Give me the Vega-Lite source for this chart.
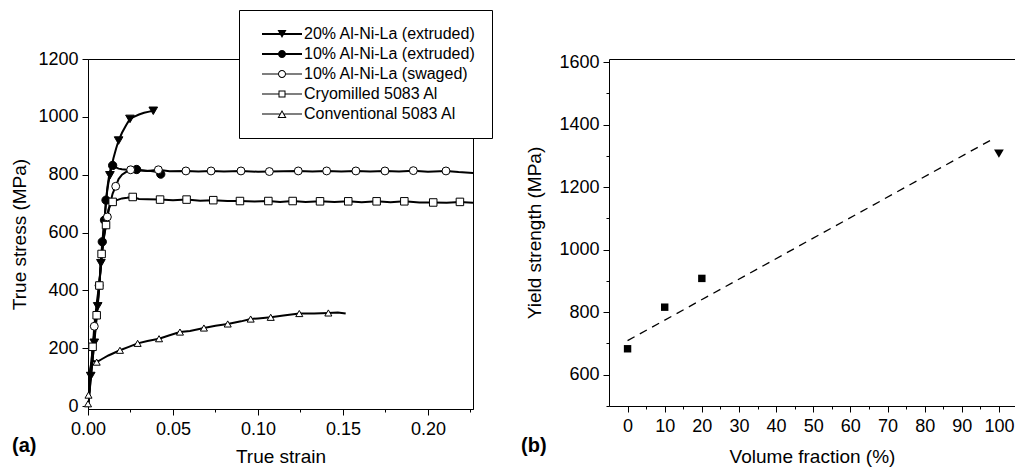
{
"$schema": "https://vega.github.io/schema/vega-lite/v6.json",
"padding": {"left": 10, "top": 9, "right": 0, "bottom": 0},
"bounds": "flush",
"spacing": 136,
"background": "white",
"resolve": {"scale": {"shape": "independent", "fill": "independent", "strokeWidth": "independent", "size": "independent"}, "legend": {"shape": "independent", "fill": "independent", "strokeWidth": "independent", "size": "independent"}},
"config": {
  "font": "Liberation Sans",
  "view": {"stroke": "black", "strokeWidth": 1},
  "axis": {"domainColor": "black", "domainWidth": 1, "tickColor": "black", "tickWidth": 1, "labelColor": "black", "titleColor": "black", "labelFont": "Liberation Sans", "titleFont": "Liberation Sans", "labelFontSize": 18, "titleFontSize": 19, "titleFontWeight": "normal", "grid": false, "labelFlush": false, "labelOverlap": false},
  "title": {"font": "Liberation Sans", "fontSize": 20, "fontWeight": "bold", "color": "black"}
},
"datasets": {
  "curves": [
    {"series": "20% Al-Ni-La (extruded)", "strain": 0, "stress": 0},
    {"series": "20% Al-Ni-La (extruded)", "strain": 0.001, "stress": 55},
    {"series": "20% Al-Ni-La (extruded)", "strain": 0.0016, "stress": 104},
    {"series": "20% Al-Ni-La (extruded)", "strain": 0.0027, "stress": 160},
    {"series": "20% Al-Ni-La (extruded)", "strain": 0.0037, "stress": 219},
    {"series": "20% Al-Ni-La (extruded)", "strain": 0.0047, "stress": 282},
    {"series": "20% Al-Ni-La (extruded)", "strain": 0.0057, "stress": 345},
    {"series": "20% Al-Ni-La (extruded)", "strain": 0.0067, "stress": 420},
    {"series": "20% Al-Ni-La (extruded)", "strain": 0.0076, "stress": 494},
    {"series": "20% Al-Ni-La (extruded)", "strain": 0.0086, "stress": 565},
    {"series": "20% Al-Ni-La (extruded)", "strain": 0.0095, "stress": 630},
    {"series": "20% Al-Ni-La (extruded)", "strain": 0.0104, "stress": 690},
    {"series": "20% Al-Ni-La (extruded)", "strain": 0.0113, "stress": 745},
    {"series": "20% Al-Ni-La (extruded)", "strain": 0.0121, "stress": 775},
    {"series": "20% Al-Ni-La (extruded)", "strain": 0.0129, "stress": 798},
    {"series": "20% Al-Ni-La (extruded)", "strain": 0.014, "stress": 832},
    {"series": "20% Al-Ni-La (extruded)", "strain": 0.015, "stress": 858},
    {"series": "20% Al-Ni-La (extruded)", "strain": 0.0165, "stress": 890},
    {"series": "20% Al-Ni-La (extruded)", "strain": 0.018, "stress": 918},
    {"series": "20% Al-Ni-La (extruded)", "strain": 0.02, "stress": 945},
    {"series": "20% Al-Ni-La (extruded)", "strain": 0.0225, "stress": 972},
    {"series": "20% Al-Ni-La (extruded)", "strain": 0.0247, "stress": 993},
    {"series": "20% Al-Ni-La (extruded)", "strain": 0.027, "stress": 1000},
    {"series": "20% Al-Ni-La (extruded)", "strain": 0.03, "stress": 1008},
    {"series": "20% Al-Ni-La (extruded)", "strain": 0.033, "stress": 1014},
    {"series": "20% Al-Ni-La (extruded)", "strain": 0.036, "stress": 1018},
    {"series": "20% Al-Ni-La (extruded)", "strain": 0.0384, "stress": 1021},
    {"series": "20% Al-Ni-La (extruded)", "strain": 0.0395, "stress": 1024},
    {"series": "10% Al-Ni-La (extruded)", "strain": 0, "stress": 0},
    {"series": "10% Al-Ni-La (extruded)", "strain": 0.001, "stress": 55},
    {"series": "10% Al-Ni-La (extruded)", "strain": 0.002, "stress": 115},
    {"series": "10% Al-Ni-La (extruded)", "strain": 0.003, "stress": 180},
    {"series": "10% Al-Ni-La (extruded)", "strain": 0.004, "stress": 245},
    {"series": "10% Al-Ni-La (extruded)", "strain": 0.005, "stress": 310},
    {"series": "10% Al-Ni-La (extruded)", "strain": 0.006, "stress": 380},
    {"series": "10% Al-Ni-La (extruded)", "strain": 0.007, "stress": 450},
    {"series": "10% Al-Ni-La (extruded)", "strain": 0.0084, "stress": 568},
    {"series": "10% Al-Ni-La (extruded)", "strain": 0.0097, "stress": 643},
    {"series": "10% Al-Ni-La (extruded)", "strain": 0.0106, "stress": 712},
    {"series": "10% Al-Ni-La (extruded)", "strain": 0.0115, "stress": 760},
    {"series": "10% Al-Ni-La (extruded)", "strain": 0.0125, "stress": 800},
    {"series": "10% Al-Ni-La (extruded)", "strain": 0.0135, "stress": 825},
    {"series": "10% Al-Ni-La (extruded)", "strain": 0.0145, "stress": 832},
    {"series": "10% Al-Ni-La (extruded)", "strain": 0.016, "stress": 826},
    {"series": "10% Al-Ni-La (extruded)", "strain": 0.018, "stress": 821},
    {"series": "10% Al-Ni-La (extruded)", "strain": 0.02, "stress": 819},
    {"series": "10% Al-Ni-La (extruded)", "strain": 0.023, "stress": 817},
    {"series": "10% Al-Ni-La (extruded)", "strain": 0.0286, "stress": 818},
    {"series": "10% Al-Ni-La (extruded)", "strain": 0.031, "stress": 815},
    {"series": "10% Al-Ni-La (extruded)", "strain": 0.034, "stress": 814},
    {"series": "10% Al-Ni-La (extruded)", "strain": 0.037, "stress": 813},
    {"series": "10% Al-Ni-La (extruded)", "strain": 0.04, "stress": 810},
    {"series": "10% Al-Ni-La (extruded)", "strain": 0.0428, "stress": 802},
    {"series": "10% Al-Ni-La (swaged)", "strain": 0, "stress": 0},
    {"series": "10% Al-Ni-La (swaged)", "strain": 0.001, "stress": 70},
    {"series": "10% Al-Ni-La (swaged)", "strain": 0.002, "stress": 150},
    {"series": "10% Al-Ni-La (swaged)", "strain": 0.0029, "stress": 210},
    {"series": "10% Al-Ni-La (swaged)", "strain": 0.0037, "stress": 276},
    {"series": "10% Al-Ni-La (swaged)", "strain": 0.005, "stress": 350},
    {"series": "10% Al-Ni-La (swaged)", "strain": 0.0065, "stress": 417},
    {"series": "10% Al-Ni-La (swaged)", "strain": 0.008, "stress": 510},
    {"series": "10% Al-Ni-La (swaged)", "strain": 0.0095, "stress": 590},
    {"series": "10% Al-Ni-La (swaged)", "strain": 0.0114, "stress": 654},
    {"series": "10% Al-Ni-La (swaged)", "strain": 0.013, "stress": 700},
    {"series": "10% Al-Ni-La (swaged)", "strain": 0.0145, "stress": 735},
    {"series": "10% Al-Ni-La (swaged)", "strain": 0.0163, "stress": 760},
    {"series": "10% Al-Ni-La (swaged)", "strain": 0.018, "stress": 785},
    {"series": "10% Al-Ni-La (swaged)", "strain": 0.02, "stress": 800},
    {"series": "10% Al-Ni-La (swaged)", "strain": 0.0225, "stress": 810},
    {"series": "10% Al-Ni-La (swaged)", "strain": 0.0251, "stress": 817},
    {"series": "10% Al-Ni-La (swaged)", "strain": 0.03, "stress": 815},
    {"series": "10% Al-Ni-La (swaged)", "strain": 0.035, "stress": 813},
    {"series": "10% Al-Ni-La (swaged)", "strain": 0.0414, "stress": 817},
    {"series": "10% Al-Ni-La (swaged)", "strain": 0.048, "stress": 812},
    {"series": "10% Al-Ni-La (swaged)", "strain": 0.0576, "stress": 813},
    {"series": "10% Al-Ni-La (swaged)", "strain": 0.065, "stress": 811},
    {"series": "10% Al-Ni-La (swaged)", "strain": 0.0724, "stress": 813},
    {"series": "10% Al-Ni-La (swaged)", "strain": 0.08, "stress": 811},
    {"series": "10% Al-Ni-La (swaged)", "strain": 0.09, "stress": 813},
    {"series": "10% Al-Ni-La (swaged)", "strain": 0.1, "stress": 810},
    {"series": "10% Al-Ni-La (swaged)", "strain": 0.1067, "stress": 811},
    {"series": "10% Al-Ni-La (swaged)", "strain": 0.115, "stress": 812},
    {"series": "10% Al-Ni-La (swaged)", "strain": 0.1237, "stress": 813},
    {"series": "10% Al-Ni-La (swaged)", "strain": 0.132, "stress": 811},
    {"series": "10% Al-Ni-La (swaged)", "strain": 0.1404, "stress": 813},
    {"series": "10% Al-Ni-La (swaged)", "strain": 0.149, "stress": 811},
    {"series": "10% Al-Ni-La (swaged)", "strain": 0.1576, "stress": 813},
    {"series": "10% Al-Ni-La (swaged)", "strain": 0.166, "stress": 811},
    {"series": "10% Al-Ni-La (swaged)", "strain": 0.1747, "stress": 813},
    {"series": "10% Al-Ni-La (swaged)", "strain": 0.183, "stress": 811},
    {"series": "10% Al-Ni-La (swaged)", "strain": 0.1914, "stress": 814},
    {"series": "10% Al-Ni-La (swaged)", "strain": 0.2, "stress": 810},
    {"series": "10% Al-Ni-La (swaged)", "strain": 0.2106, "stress": 813},
    {"series": "10% Al-Ni-La (swaged)", "strain": 0.218, "stress": 809},
    {"series": "10% Al-Ni-La (swaged)", "strain": 0.2265, "stress": 806},
    {"series": "Cryomilled 5083 Al", "strain": 0, "stress": 0},
    {"series": "Cryomilled 5083 Al", "strain": 0.001, "stress": 70},
    {"series": "Cryomilled 5083 Al", "strain": 0.0027, "stress": 205},
    {"series": "Cryomilled 5083 Al", "strain": 0.004, "stress": 265},
    {"series": "Cryomilled 5083 Al", "strain": 0.0051, "stress": 314},
    {"series": "Cryomilled 5083 Al", "strain": 0.0067, "stress": 417},
    {"series": "Cryomilled 5083 Al", "strain": 0.008, "stress": 526},
    {"series": "Cryomilled 5083 Al", "strain": 0.0093, "stress": 580},
    {"series": "Cryomilled 5083 Al", "strain": 0.0106, "stress": 626},
    {"series": "Cryomilled 5083 Al", "strain": 0.012, "stress": 680},
    {"series": "Cryomilled 5083 Al", "strain": 0.0135, "stress": 700},
    {"series": "Cryomilled 5083 Al", "strain": 0.0145, "stress": 706},
    {"series": "Cryomilled 5083 Al", "strain": 0.017, "stress": 712},
    {"series": "Cryomilled 5083 Al", "strain": 0.02, "stress": 718},
    {"series": "Cryomilled 5083 Al", "strain": 0.023, "stress": 720},
    {"series": "Cryomilled 5083 Al", "strain": 0.0263, "stress": 723},
    {"series": "Cryomilled 5083 Al", "strain": 0.03, "stress": 716},
    {"series": "Cryomilled 5083 Al", "strain": 0.035, "stress": 715},
    {"series": "Cryomilled 5083 Al", "strain": 0.0424, "stress": 714},
    {"series": "Cryomilled 5083 Al", "strain": 0.05, "stress": 712},
    {"series": "Cryomilled 5083 Al", "strain": 0.058, "stress": 714},
    {"series": "Cryomilled 5083 Al", "strain": 0.066, "stress": 710},
    {"series": "Cryomilled 5083 Al", "strain": 0.0737, "stress": 712},
    {"series": "Cryomilled 5083 Al", "strain": 0.082, "stress": 709},
    {"series": "Cryomilled 5083 Al", "strain": 0.0894, "stress": 709},
    {"series": "Cryomilled 5083 Al", "strain": 0.098, "stress": 707},
    {"series": "Cryomilled 5083 Al", "strain": 0.1061, "stress": 709},
    {"series": "Cryomilled 5083 Al", "strain": 0.113, "stress": 706},
    {"series": "Cryomilled 5083 Al", "strain": 0.1204, "stress": 709},
    {"series": "Cryomilled 5083 Al", "strain": 0.128, "stress": 706},
    {"series": "Cryomilled 5083 Al", "strain": 0.1365, "stress": 708},
    {"series": "Cryomilled 5083 Al", "strain": 0.145, "stress": 706},
    {"series": "Cryomilled 5083 Al", "strain": 0.1531, "stress": 708},
    {"series": "Cryomilled 5083 Al", "strain": 0.161, "stress": 705},
    {"series": "Cryomilled 5083 Al", "strain": 0.1698, "stress": 708},
    {"series": "Cryomilled 5083 Al", "strain": 0.178, "stress": 705},
    {"series": "Cryomilled 5083 Al", "strain": 0.1861, "stress": 708},
    {"series": "Cryomilled 5083 Al", "strain": 0.195, "stress": 704},
    {"series": "Cryomilled 5083 Al", "strain": 0.2031, "stress": 704},
    {"series": "Cryomilled 5083 Al", "strain": 0.211, "stress": 703},
    {"series": "Cryomilled 5083 Al", "strain": 0.2188, "stress": 706},
    {"series": "Cryomilled 5083 Al", "strain": 0.2265, "stress": 703},
    {"series": "Conventional 5083 Al", "strain": 0, "stress": 0},
    {"series": "Conventional 5083 Al", "strain": 0.0003, "stress": 38},
    {"series": "Conventional 5083 Al", "strain": 0.0008, "stress": 90},
    {"series": "Conventional 5083 Al", "strain": 0.0013, "stress": 130},
    {"series": "Conventional 5083 Al", "strain": 0.002, "stress": 150},
    {"series": "Conventional 5083 Al", "strain": 0.003, "stress": 157},
    {"series": "Conventional 5083 Al", "strain": 0.0051, "stress": 152},
    {"series": "Conventional 5083 Al", "strain": 0.008, "stress": 162},
    {"series": "Conventional 5083 Al", "strain": 0.012, "stress": 175},
    {"series": "Conventional 5083 Al", "strain": 0.0188, "stress": 193},
    {"series": "Conventional 5083 Al", "strain": 0.024, "stress": 205},
    {"series": "Conventional 5083 Al", "strain": 0.0292, "stress": 217},
    {"series": "Conventional 5083 Al", "strain": 0.035, "stress": 225},
    {"series": "Conventional 5083 Al", "strain": 0.0418, "stress": 233},
    {"series": "Conventional 5083 Al", "strain": 0.048, "stress": 245},
    {"series": "Conventional 5083 Al", "strain": 0.0541, "stress": 256},
    {"series": "Conventional 5083 Al", "strain": 0.06, "stress": 260},
    {"series": "Conventional 5083 Al", "strain": 0.0682, "stress": 270},
    {"series": "Conventional 5083 Al", "strain": 0.075, "stress": 278},
    {"series": "Conventional 5083 Al", "strain": 0.0822, "stress": 284},
    {"series": "Conventional 5083 Al", "strain": 0.09, "stress": 293},
    {"series": "Conventional 5083 Al", "strain": 0.0957, "stress": 301},
    {"series": "Conventional 5083 Al", "strain": 0.1, "stress": 303},
    {"series": "Conventional 5083 Al", "strain": 0.1075, "stress": 307},
    {"series": "Conventional 5083 Al", "strain": 0.115, "stress": 313},
    {"series": "Conventional 5083 Al", "strain": 0.1243, "stress": 320},
    {"series": "Conventional 5083 Al", "strain": 0.133, "stress": 320},
    {"series": "Conventional 5083 Al", "strain": 0.1414, "stress": 322},
    {"series": "Conventional 5083 Al", "strain": 0.147, "stress": 324},
    {"series": "Conventional 5083 Al", "strain": 0.1516, "stress": 320}
  ],
  "markers": [
    {"series": "20% Al-Ni-La (extruded)", "strain": 0.0016, "stress": 104},
    {"series": "20% Al-Ni-La (extruded)", "strain": 0.0037, "stress": 219},
    {"series": "20% Al-Ni-La (extruded)", "strain": 0.0057, "stress": 345},
    {"series": "20% Al-Ni-La (extruded)", "strain": 0.0076, "stress": 494},
    {"series": "20% Al-Ni-La (extruded)", "strain": 0.0129, "stress": 798},
    {"series": "20% Al-Ni-La (extruded)", "strain": 0.018, "stress": 918},
    {"series": "20% Al-Ni-La (extruded)", "strain": 0.0247, "stress": 993},
    {"series": "20% Al-Ni-La (extruded)", "strain": 0.0384, "stress": 1021},
    {"series": "10% Al-Ni-La (extruded)", "strain": 0.0084, "stress": 568},
    {"series": "10% Al-Ni-La (extruded)", "strain": 0.0097, "stress": 643},
    {"series": "10% Al-Ni-La (extruded)", "strain": 0.0106, "stress": 712},
    {"series": "10% Al-Ni-La (extruded)", "strain": 0.0145, "stress": 832},
    {"series": "10% Al-Ni-La (extruded)", "strain": 0.0286, "stress": 818},
    {"series": "10% Al-Ni-La (extruded)", "strain": 0.0428, "stress": 802},
    {"series": "10% Al-Ni-La (swaged)", "strain": 0.0037, "stress": 276},
    {"series": "10% Al-Ni-La (swaged)", "strain": 0.0065, "stress": 417},
    {"series": "10% Al-Ni-La (swaged)", "strain": 0.0114, "stress": 654},
    {"series": "10% Al-Ni-La (swaged)", "strain": 0.0163, "stress": 760},
    {"series": "10% Al-Ni-La (swaged)", "strain": 0.0251, "stress": 817},
    {"series": "10% Al-Ni-La (swaged)", "strain": 0.0414, "stress": 817},
    {"series": "10% Al-Ni-La (swaged)", "strain": 0.0576, "stress": 813},
    {"series": "10% Al-Ni-La (swaged)", "strain": 0.0724, "stress": 813},
    {"series": "10% Al-Ni-La (swaged)", "strain": 0.09, "stress": 813},
    {"series": "10% Al-Ni-La (swaged)", "strain": 0.1067, "stress": 811},
    {"series": "10% Al-Ni-La (swaged)", "strain": 0.1237, "stress": 813},
    {"series": "10% Al-Ni-La (swaged)", "strain": 0.1404, "stress": 813},
    {"series": "10% Al-Ni-La (swaged)", "strain": 0.1576, "stress": 813},
    {"series": "10% Al-Ni-La (swaged)", "strain": 0.1747, "stress": 813},
    {"series": "10% Al-Ni-La (swaged)", "strain": 0.1914, "stress": 814},
    {"series": "10% Al-Ni-La (swaged)", "strain": 0.2106, "stress": 813},
    {"series": "Cryomilled 5083 Al", "strain": 0.0027, "stress": 205},
    {"series": "Cryomilled 5083 Al", "strain": 0.0051, "stress": 314},
    {"series": "Cryomilled 5083 Al", "strain": 0.0067, "stress": 417},
    {"series": "Cryomilled 5083 Al", "strain": 0.008, "stress": 526},
    {"series": "Cryomilled 5083 Al", "strain": 0.0106, "stress": 626},
    {"series": "Cryomilled 5083 Al", "strain": 0.0145, "stress": 706},
    {"series": "Cryomilled 5083 Al", "strain": 0.0263, "stress": 723},
    {"series": "Cryomilled 5083 Al", "strain": 0.0424, "stress": 714},
    {"series": "Cryomilled 5083 Al", "strain": 0.058, "stress": 714},
    {"series": "Cryomilled 5083 Al", "strain": 0.0737, "stress": 712},
    {"series": "Cryomilled 5083 Al", "strain": 0.0894, "stress": 709},
    {"series": "Cryomilled 5083 Al", "strain": 0.1061, "stress": 709},
    {"series": "Cryomilled 5083 Al", "strain": 0.1204, "stress": 709},
    {"series": "Cryomilled 5083 Al", "strain": 0.1365, "stress": 708},
    {"series": "Cryomilled 5083 Al", "strain": 0.1531, "stress": 708},
    {"series": "Cryomilled 5083 Al", "strain": 0.1698, "stress": 708},
    {"series": "Cryomilled 5083 Al", "strain": 0.1861, "stress": 708},
    {"series": "Cryomilled 5083 Al", "strain": 0.2031, "stress": 704},
    {"series": "Cryomilled 5083 Al", "strain": 0.2188, "stress": 706},
    {"series": "Conventional 5083 Al", "strain": 0, "stress": 8},
    {"series": "Conventional 5083 Al", "strain": 0.0003, "stress": 38},
    {"series": "Conventional 5083 Al", "strain": 0.0051, "stress": 152},
    {"series": "Conventional 5083 Al", "strain": 0.0188, "stress": 193},
    {"series": "Conventional 5083 Al", "strain": 0.0292, "stress": 217},
    {"series": "Conventional 5083 Al", "strain": 0.0418, "stress": 233},
    {"series": "Conventional 5083 Al", "strain": 0.0541, "stress": 256},
    {"series": "Conventional 5083 Al", "strain": 0.0682, "stress": 270},
    {"series": "Conventional 5083 Al", "strain": 0.0822, "stress": 284},
    {"series": "Conventional 5083 Al", "strain": 0.0957, "stress": 301},
    {"series": "Conventional 5083 Al", "strain": 0.1075, "stress": 307},
    {"series": "Conventional 5083 Al", "strain": 0.1243, "stress": 320},
    {"series": "Conventional 5083 Al", "strain": 0.1414, "stress": 322}
  ],
  "yield": [
    {"fraction": 0, "strength": 683, "source": "Compression data"},
    {"fraction": 10, "strength": 816, "source": "Compression data"},
    {"fraction": 20, "strength": 908, "source": "Compression data"},
    {"fraction": 100, "strength": 1307, "source": "Estimated from hardness"}
  ],
  "fit": [
    {"fraction": 0, "strength": 709},
    {"fraction": 98.7, "strength": 1356}
  ]
},
"hconcat": [
  {
    "width": 385,
    "height": 350,
    "title": {"text": "(a)", "orient": "bottom", "anchor": "start", "frame": "group", "dx": -76, "dy": -34},
    "layer": [
      {
        "data": {"name": "curves"},
        "mark": {"type": "line", "stroke": "black", "clip": true},
        "encoding": {
          "x": {"field": "strain", "type": "quantitative", "scale": {"domain": [0, 0.2265], "nice": false, "zero": false}, "title": "True strain",
            "axis": {"values": [0, 0.025, 0.05, 0.075, 0.1, 0.125, 0.15, 0.175, 0.2, 0.225],
              "labelExpr": "abs(datum.value*20-round(datum.value*20))<0.001 ? format(datum.value,'.2f') : ''",
              "tickSize": {"condition": {"test": "abs(datum.value*20-round(datum.value*20))<0.001", "value": 6}, "value": 3},
              "labelPadding": 5, "titlePadding": 9}},
          "y": {"field": "stress", "type": "quantitative", "scale": {"domain": [-10, 1200], "nice": false}, "title": "True stress (MPa)",
            "axis": {"values": [0, 100, 200, 300, 400, 500, 600, 700, 800, 900, 1000, 1100, 1200],
              "labelExpr": "datum.value % 200 == 0 ? format(datum.value,'d') : ''",
              "tickSize": {"condition": {"test": "datum.value % 200 == 0", "value": 6}, "value": 3},
              "labelPadding": 4, "titlePadding": 8}},
          "detail": {"field": "series", "type": "nominal"},
          "strokeWidth": {"field": "series", "type": "nominal", "legend": null,
            "scale": {"domain": ["20% Al-Ni-La (extruded)", "10% Al-Ni-La (extruded)", "10% Al-Ni-La (swaged)", "Cryomilled 5083 Al", "Conventional 5083 Al"], "range": [2, 2, 1, 1, 1]}}
        }
      },
      {
        "data": {"name": "markers"},
        "mark": {"type": "point", "filled": true, "stroke": "black", "strokeWidth": 1, "opacity": 1},
        "encoding": {
          "x": {"field": "strain", "type": "quantitative"},
          "y": {"field": "stress", "type": "quantitative"},
          "shape": {"field": "series", "type": "nominal", "legend": null,
            "scale": {"domain": ["20% Al-Ni-La (extruded)", "10% Al-Ni-La (extruded)", "10% Al-Ni-La (swaged)", "Cryomilled 5083 Al", "Conventional 5083 Al"], "range": ["triangle-down", "circle", "circle", "square", "triangle-up"]}},
          "size": {"field": "series", "type": "nominal", "legend": null,
            "scale": {"domain": ["20% Al-Ni-La (extruded)", "10% Al-Ni-La (extruded)", "10% Al-Ni-La (swaged)", "Cryomilled 5083 Al", "Conventional 5083 Al"], "range": [75, 50, 50, 45, 70]}},
          "fill": {"field": "series", "type": "nominal", "legend": null,
            "scale": {"domain": ["20% Al-Ni-La (extruded)", "10% Al-Ni-La (extruded)", "10% Al-Ni-La (swaged)", "Cryomilled 5083 Al", "Conventional 5083 Al"], "range": ["black", "black", "white", "white", "white"]}}
        }
      },
      {
        "data": {"name": "markers"},
        "mark": {"type": "point", "filled": true, "color": "black", "size": 0},
        "encoding": {
          "x": {"field": "strain", "type": "quantitative"},
          "y": {"field": "stress", "type": "quantitative"},
          "shape": {"field": "series", "type": "nominal",
            "scale": {"domain": ["20% Al-Ni-La (extruded)", "10% Al-Ni-La (extruded)", "10% Al-Ni-La (swaged)", "Cryomilled 5083 Al", "Conventional 5083 Al"],
              "range": [
                "M-1,-0.05H1V0.05H-1ZM-0.225,-0.2H0.225L0,0.2Z",
                "M-1,-0.05H1V0.05H-1ZM0.2,0A0.2,0.2,0,1,1,-0.2,0A0.2,0.2,0,1,1,0.2,0Z",
                "M-1,-0.025H-0.2V0.025H-1ZM0.2,-0.025H1V0.025H0.2ZM0.2,0A0.2,0.2,0,1,1,-0.2,0A0.2,0.2,0,1,1,0.2,0ZM0.15,0A0.15,0.15,0,1,0,-0.15,0A0.15,0.15,0,1,0,0.15,0Z",
                "M-1,-0.025H-0.175V0.025H-1ZM0.175,-0.025H1V0.025H0.175ZM-0.175,-0.175H0.175V0.175H-0.175ZM-0.125,-0.125V0.125H0.125V-0.125Z",
                "M-1,-0.025H-0.1125V0.025H-1ZM0.1125,-0.025H1V0.025H0.1125ZM0,-0.2L0.225,0.2H-0.225ZM0,-0.098L-0.1395,0.15H0.1395Z"
              ]},
            "legend": {"orient": "none", "legendX": 151, "legendY": -49, "title": null, "padding": 16, "strokeColor": "black", "fillColor": "white", "labelFont": "Liberation Sans", "labelFontSize": 16, "labelColor": "black", "labelOffset": 2, "symbolOffset": 7, "symbolSize": 1600, "symbolFillColor": "black", "symbolStrokeColor": "black", "symbolStrokeWidth": 0, "symbolOpacity": 1, "rowPadding": 4, "clipHeight": 16, "labelLimit": 400}}
        }
      }
    ],
    "resolve": {"scale": {"shape": "independent", "fill": "independent", "strokeWidth": "independent", "size": "independent"}}
  },
  {
    "width": 406,
    "height": 347,
    "view": {"stroke": null},
    "title": {"text": "(b)", "orient": "bottom", "anchor": "start", "frame": "group", "dx": -88, "dy": -34},
    "layer": [
      {
        "data": {"name": "fit"},
        "mark": {"type": "line", "stroke": "black", "strokeWidth": 1.3, "strokeDash": [8, 6]},
        "encoding": {
          "x": {"field": "fraction", "type": "quantitative", "scale": {"domain": [-5, 104.33], "nice": false, "zero": false},
            "axis": {"orient": "top", "labels": false, "ticks": false, "title": null, "domain": true}},
          "y": {"field": "strength", "type": "quantitative", "scale": {"domain": [500, 1609.6], "nice": false, "zero": false}, "title": "Yield strength (MPa)",
            "axis": {"values": [500, 600, 700, 800, 900, 1000, 1100, 1200, 1300, 1400, 1500, 1600],
              "labelExpr": "datum.value % 200 == 0 ? format(datum.value,'d') : ''",
              "tickSize": {"condition": {"test": "datum.value % 200 == 0", "value": 6}, "value": 3},
              "labelPadding": 4, "titlePadding": 14}}
        }
      },
      {
        "data": {"name": "yield"},
        "mark": {"type": "point", "filled": true, "color": "black", "opacity": 1},
        "encoding": {
          "x": {"field": "fraction", "type": "quantitative", "title": "Volume fraction (%)",
            "axis": {"orient": "bottom", "values": [0, 5, 10, 15, 20, 25, 30, 35, 40, 45, 50, 55, 60, 65, 70, 75, 80, 85, 90, 95, 100],
              "labelExpr": "datum.value % 10 == 0 ? format(datum.value,'d') : ''",
              "tickSize": {"condition": {"test": "datum.value % 10 == 0", "value": 6}, "value": 3},
              "labelPadding": 5, "titlePadding": 12}},
          "y": {"field": "strength", "type": "quantitative", "title": "Yield strength (MPa)",
            "axis": {"values": [500, 600, 700, 800, 900, 1000, 1100, 1200, 1300, 1400, 1500, 1600],
              "labelExpr": "datum.value % 200 == 0 ? format(datum.value,'d') : ''",
              "tickSize": {"condition": {"test": "datum.value % 200 == 0", "value": 6}, "value": 3},
              "labelPadding": 4, "titlePadding": 14}},
          "size": {"field": "source", "type": "nominal", "legend": null,
            "scale": {"domain": ["Compression data", "Estimated from hardness"], "range": [55, 95]}},
          "shape": {"field": "source", "type": "nominal",
            "scale": {"domain": ["Compression data", "Estimated from hardness"], "range": ["square", "triangle-down"]},
            "legend": {"orient": "none", "legendX": 41, "legendY": 43, "title": null, "padding": 0, "labelFont": "Liberation Sans", "labelFontSize": 18.5, "labelColor": "black", "labelOffset": 18, "symbolSize": 60, "symbolFillColor": "black", "symbolStrokeColor": "black", "symbolStrokeWidth": 0, "symbolOpacity": 1, "rowPadding": 7, "labelLimit": 400}}
        }
      }
    ],
    "resolve": {"axis": {"x": "independent"}}
  }
]
}
